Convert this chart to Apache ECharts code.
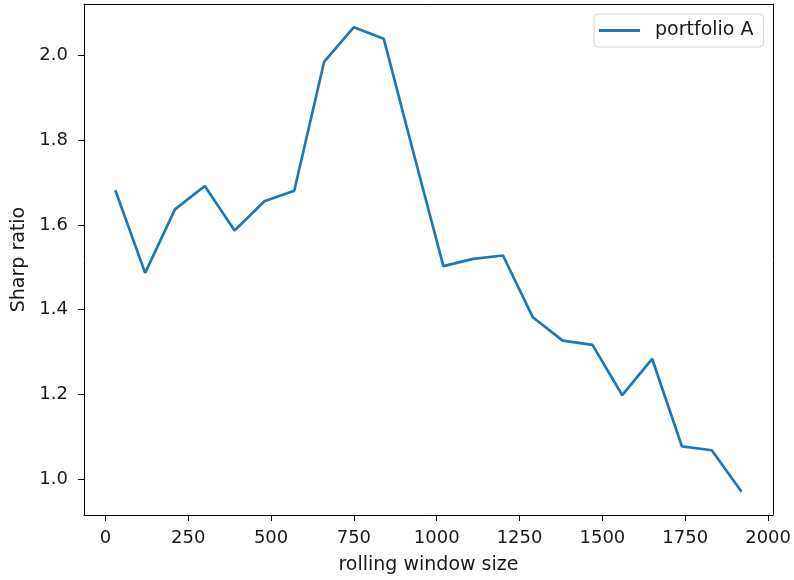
<!DOCTYPE html>
<html>
<head>
<meta charset="utf-8">
<script src="https://cdn.jsdelivr.net/npm/echarts@6/dist/echarts.min.js"></script>
<style>
  html, body { margin: 0; padding: 0; background: #fff; }
  #chart { width: 794px; height: 580px; }
</style>
</head>
<body>
<div id="chart"></div>
<script>
// Rolling window sizes (x) and the resulting Sharpe ratio of portfolio A (y)
const windowSizes = [30, 120, 210, 300, 390, 480, 570, 660, 750, 840, 930,
                     1020, 1110, 1200, 1290, 1380, 1470, 1560, 1650, 1740, 1830, 1920];
const sharpRatio = [1.682, 1.487, 1.637, 1.692, 1.587, 1.656, 1.681, 1.985, 2.067, 2.040, 1.770,
                    1.503, 1.520, 1.528, 1.382, 1.327, 1.317, 1.198, 1.284, 1.077, 1.068, 0.970];
const seriesName = 'portfolio A';
const xTicks = [0, 250, 500, 750, 1000, 1250, 1500, 1750, 2000];
const yTicks = [1.0, 1.2, 1.4, 1.6, 1.8, 2.0];
const xLabel = 'rolling window size';
const yLabel = 'Sharp ratio';

// Axis limits padded by 5% of the data span on each side
function padded(values) {
  const lo = Math.min(...values), hi = Math.max(...values);
  const m = (hi - lo) * 0.05;
  return [lo - m, hi + m];
}
const [xMin, xMax] = padded(windowSizes);
const [yMin, yMax] = padded(sharpRatio);

const FONT = 'DejaVu Sans';
const TXT = '#1a1a1a';
const TICK_SIZE = 18;
const LABEL_SIZE = 19;

function spine() {
  return { show: true, onZero: false, lineStyle: { color: '#000', width: 1 } };
}
function ticks(values) {
  return { show: true, inside: false, length: 6, customValues: values, lineStyle: { color: '#000', width: 1 } };
}
// Plain frame line for the top and right sides of the plot box
function frameAxis(position, min, max) {
  return {
    type: 'value', position, min, max,
    axisLine: spine(), axisTick: { show: false }, axisLabel: { show: false }, splitLine: { show: false }
  };
}

const chart = echarts.init(document.getElementById('chart'), null, { renderer: 'canvas' });
chart.setOption({
  animation: false,
  backgroundColor: '#fff',
  textStyle: { fontFamily: FONT },
  grid: { left: 84, right: 21, top: 4, bottom: 63, show: false },
  legend: {
    left: 594, top: 14,
    padding: [7, 10, 7, 5],
    itemWidth: 41, itemHeight: 3,
    icon: 'rect',
    borderColor: '#d6d6d6', borderWidth: 1, borderRadius: 4,
    backgroundColor: 'rgba(255,255,255,0.8)',
    textStyle: { fontFamily: FONT, fontSize: LABEL_SIZE, color: TXT, padding: [0, 0, 0, 10] },
    data: [seriesName]
  },
  xAxis: [{
    type: 'value', position: 'bottom', min: xMin, max: xMax,
    name: xLabel, nameLocation: 'middle', nameGap: 41,
    nameTextStyle: { fontFamily: FONT, fontSize: LABEL_SIZE, color: TXT },
    axisLine: spine(),
    splitLine: { show: false },
    axisTick: ticks(xTicks),
    axisLabel: { customValues: xTicks, margin: 14, fontFamily: FONT, fontSize: TICK_SIZE, color: TXT,
                 formatter: v => String(v) }
  }, frameAxis('top', xMin, xMax)],
  yAxis: [{
    type: 'value', position: 'left', min: yMin, max: yMax,
    name: yLabel, nameLocation: 'middle', nameGap: 54, nameRotate: 90,
    nameTextStyle: { fontFamily: FONT, fontSize: LABEL_SIZE, color: TXT },
    axisLine: spine(),
    splitLine: { show: false },
    axisTick: ticks(yTicks),
    axisLabel: { customValues: yTicks, margin: 16, fontFamily: FONT, fontSize: TICK_SIZE, color: TXT,
                 formatter: v => v.toFixed(1) }
  }, frameAxis('right', yMin, yMax)],
  series: [{
    name: seriesName,
    type: 'line',
    xAxisIndex: 0, yAxisIndex: 0,
    data: windowSizes.map((x, i) => [x, sharpRatio[i]]),
    showSymbol: false, symbol: 'none',
    lineStyle: { color: '#1f77b4', width: 2.7 },
    itemStyle: { color: '#1f77b4' }
  }]
});
</script>
</body>
</html>
